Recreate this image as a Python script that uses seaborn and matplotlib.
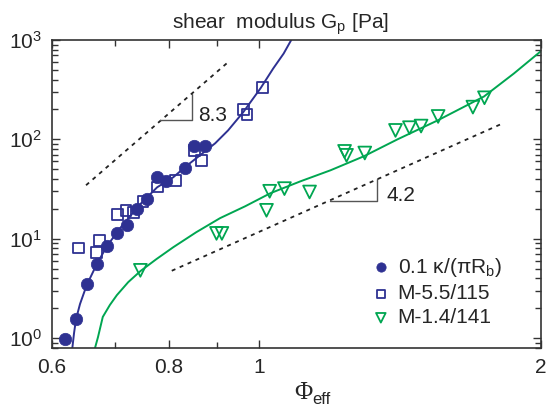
import numpy as np
import pandas as pd
import seaborn as sns
import matplotlib.pyplot as plt
from matplotlib.ticker import FixedLocator, NullFormatter, LogLocator

# measured points
circ_x = [0.620, 0.636, 0.654, 0.670, 0.687, 0.704, 0.721, 0.740, 0.758, 0.777, 0.795, 0.833, 0.852, 0.874]
circ_y = [0.97, 1.54, 3.47, 5.54, 8.47, 11.3, 13.7, 19.8, 24.8, 41.9, 38.1, 51.5, 85, 86]

sq_x = [0.640, 0.670, 0.675, 0.705, 0.720, 0.734, 0.751, 0.778, 0.813, 0.852, 0.867, 0.962, 0.970, 1.008]
sq_y = [8.07, 7.2, 9.5, 17.5, 19.3, 18.3, 23.8, 33.1, 38.7, 77.6, 61.5, 198, 177, 335]

tri_x = [0.746, 0.900, 0.912, 1.018, 1.026, 1.064, 1.132, 1.234, 1.240, 1.297, 1.399, 1.448, 1.490, 1.554, 1.693, 1.742]
tri_y = [4.8, 11.3, 11.3, 19.3, 30, 31.9, 29.5, 75.6, 69, 72.8, 123, 131, 136, 170, 211, 262]

# fit curves
fit1_x = [0.6308, 0.6335, 0.6366, 0.6429, 0.6536, 0.670, 0.687, 0.7096, 0.7456, 0.7775,
          0.809, 0.835, 0.864, 0.897, 0.926, 0.961, 1.003, 1.035, 1.062, 1.082]
fit1_y = [0.79, 1.12, 1.55, 2.20, 3.41, 5.54, 8.41, 12.75, 22.2, 32.9,
          41.5, 53.6, 69, 91.2, 123, 187, 326, 517, 731, 1000]

fit2_x = [0.667, 0.672, 0.680, 0.692, 0.704, 0.724, 0.746, 0.776, 0.809, 0.856, 0.908,
          0.966, 1.028, 1.107, 1.192, 1.294, 1.406, 1.552, 1.740, 1.873, 2.0]
fit2_y = [0.79, 1.02, 1.63, 2.15, 2.70, 3.65, 4.71, 6.22, 8.2, 11.6, 16.1,
          21.2, 28.7, 37.8, 48.8, 67.5, 100, 155, 270, 460, 766]

# guide lines (slopes 8.3 and 4.2)
guide1_x = [0.6525, 0.926]
guide1_y = [34.5, 598]
guide2_x = [0.806, 1.820]
guide2_y = [4.75, 144]

blue = '#2e3192'
green = '#00a651'

sns.set_style('ticks')
plt.rcParams['font.family'] = ['Liberation Sans', 'DejaVu Sans']
plt.rcParams['mathtext.default'] = 'regular'

fig = plt.figure(figsize=(5.57, 4.09), dpi=100)
ax = fig.add_axes([52/557, 1-348/409, (540.5-52)/557, (348-40)/409])

sns.lineplot(x=fit1_x, y=fit1_y, color=blue, lw=1.4, sort=False, estimator=None, ax=ax)
sns.lineplot(x=fit2_x, y=fit2_y, color=green, lw=1.4, sort=False, estimator=None, ax=ax)
for gx, gy in [(guide1_x, guide1_y), (guide2_x, guide2_y)]:
    ax.plot(gx, gy, color='#222222', lw=1.3, ls=(0, (2.2, 2.6)))

# slope triangles
ax.plot([0.783, 0.847, 0.847], [155, 155, 288], color='#555555', lw=1)
ax.text(0.861, 174, '8.3', fontsize=15, va='center', ha='left', color='#222222')
ax.plot([1.189, 1.337, 1.337], [24, 24, 40.3], color='#555555', lw=1)
ax.text(1.368, 27.4, '4.2', fontsize=15, va='center', ha='left', color='#222222')

sns.scatterplot(x=circ_x, y=circ_y, marker='o', s=80, color=blue, edgecolor=blue,
                linewidth=0.5, ax=ax, label='0.1 κ/(πR$_{b}$)', zorder=3)
sns.scatterplot(x=sq_x, y=sq_y, marker='s', s=60, color=blue, facecolors='none',
                edgecolor=blue, linewidth=1.3, ax=ax, label='M-5.5/115', zorder=3)
sns.scatterplot(x=tri_x, y=tri_y, marker='v', s=85, color=green, facecolors='none',
                edgecolor=green, linewidth=1.3, ax=ax, label='M-1.4/141', zorder=3)

ax.set_xscale('log')
ax.set_yscale('log')
ax.set_xlim(0.6, 2)
ax.set_ylim(0.793, 1000)

ax.xaxis.set_major_locator(FixedLocator([0.6, 0.8, 1, 2]))
ax.xaxis.set_minor_locator(FixedLocator([0.7, 0.9]))
ax.set_xticklabels(['0.6', '0.8', '1', '2'])
ax.xaxis.set_minor_formatter(NullFormatter())
ax.yaxis.set_major_locator(LogLocator(base=10, numticks=10))
ax.yaxis.set_minor_locator(LogLocator(base=10, subs=np.arange(2, 10), numticks=10))
ax.yaxis.set_minor_formatter(NullFormatter())

ax.tick_params(which='both', direction='in', top=True, right=True, labelsize=15,
               color='#333333', width=1)
ax.tick_params(which='major', length=6, pad=7)
ax.tick_params(which='minor', length=4)
for sp in ax.spines.values():
    sp.set_color('#333333')
    sp.set_linewidth(1.2)

ax.set_xlabel('')
ax.set_ylabel('')

leg = ax.legend(loc='lower right', frameon=False, fontsize=15, handletextpad=0.3,
                labelspacing=0.25, markerscale=0.75, handlelength=1.0,
                borderaxespad=0.3, bbox_to_anchor=(0.95, 0.02))

fig.text(0.5036, 1-29/409, 'shear  modulus G$_{p}$ [Pa]', fontsize=15, ha='center', va='baseline')
fig.text(303/557, 1-399/409, 'Φ', family=['Liberation Serif', 'DejaVu Serif'], fontsize=18,
         ha='center', va='baseline')
fig.text(312/557, 1-404/409, 'eff', fontsize=12, ha='left', va='baseline')

fig.savefig('out.png', dpi=100)
